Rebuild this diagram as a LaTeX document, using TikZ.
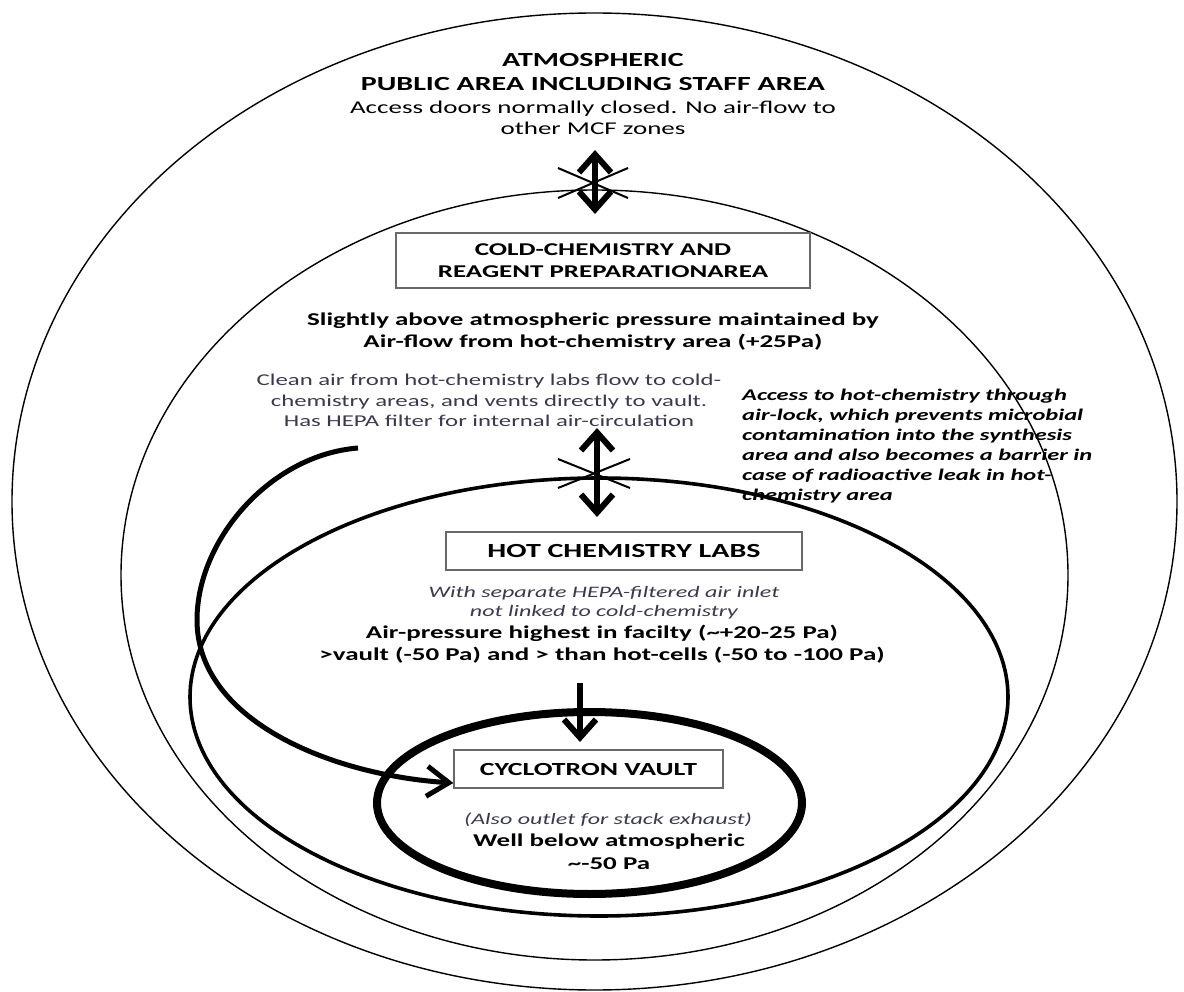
\documentclass[tikz,border=0pt]{standalone}
\usepackage{fontspec}
\setmainfont{Carlito}[FakeStretch=1.5]
\usetikzlibrary{arrows.meta}
\definecolor{softtext}{RGB}{58,58,76}
\definecolor{boxline}{RGB}{105,105,105}
\begin{document}
\begin{tikzpicture}[x=1pt,y=-1pt,
  zonethin/.style={draw=black,line width=1.4pt},
  zonemid/.style={draw=black,line width=3.6pt},
  zonethick/.style={draw=black,line width=8pt},
  labelbox/.style={draw=boxline,line width=1.3pt,fill=white,inner sep=0pt,align=center},
  txt/.style={inner sep=0pt,align=center},
  flowtwo/.style={line width=6pt,{Straight Barb[length=18pt,width=32pt]}-{Straight Barb[length=18pt,width=32pt]}},
  flowone/.style={line width=6pt,-{Straight Barb[length=18pt,width=32pt]}},
  curveflow/.style={line width=5pt,-{Straight Barb[length=22pt,width=30pt]}},
  blockx/.style={line width=2pt}
]
\useasboundingbox (0,0) rectangle (1184,992);

% zones
\draw[zonethin] (594.5,501.5) ellipse [x radius=582.5pt, y radius=488.5pt];
\draw[zonethin] (594.5,575) ellipse [x radius=473.5pt, y radius=385pt];
\draw[zonemid] (599,697) ellipse [x radius=409pt, y radius=219pt];
\draw[zonethick] (589.5,803) ellipse [x radius=212.5pt, y radius=91pt];

% texts: atmospheric zone
\node[txt,font=\bfseries\fontsize{20}{24}\selectfont] (atmos) at (593,72)
  {ATMOSPHERIC\\PUBLIC AREA INCLUDING STAFF AREA};
\node[txt,font=\fontsize{18}{21}\selectfont] (access) at (593,117.5)
  {Access doors normally closed. No air-flow to\\other MCF zones};

% cold chemistry
\node[labelbox,minimum width=414pt,minimum height=55pt,font=\bfseries\fontsize{18}{22}\selectfont] (cold) at (603,260.5)
  {COLD-CHEMISTRY AND\\REAGENT PREPARATIONAREA};
\node[txt,font=\bfseries\fontsize{18}{22}\selectfont] (slight) at (593,332)
  {Slightly above atmospheric pressure maintained by\\Air-flow from hot-chemistry area (+25Pa)};
\node[txt,text=softtext,font=\fontsize{16.5}{20.5}\selectfont] (clean) at (489,400.5)
  {Clean air from hot-chemistry labs flow to cold-\\chemistry areas, and vents directly to vault.\\Has HEPA filter for internal air-circulation};
\node[txt,align=left,anchor=west,font=\bfseries\itshape\fontsize{16.3}{20}\selectfont] (airlock) at (742,446)
  {Access to hot-chemistry through\\air-lock, which prevents microbial\\contamination into the synthesis\\area and also becomes a barrier in\\case of radioactive leak in hot-\\chemistry area};

% hot chemistry
\node[labelbox,minimum width=356pt,minimum height=38pt,font=\bfseries\fontsize{20}{24}\selectfont] (hot) at (624,551)
  {HOT CHEMISTRY LABS};
\node[txt,text=softtext,font=\itshape\fontsize{16}{19.5}\selectfont] (hotnote) at (604,602.5)
  {With separate HEPA-filtered air inlet\\not linked to cold-chemistry};
\node[txt,font=\bfseries\fontsize{18}{22}\selectfont] (hotpress) at (602,644)
  {Air-pressure highest in facilty (\textasciitilde+20-25 Pa)\\>vault (-50 Pa) and > than hot-cells (-50 to -100 Pa)};

% cyclotron vault
\node[labelbox,minimum width=269pt,minimum height=38pt,font=\bfseries\fontsize{18.5}{22}\selectfont] (vault) at (588.5,769)
  {CYCLOTRON VAULT};
\node[txt,text=softtext,font=\itshape\fontsize{16}{20}\selectfont] (vaultnote) at (608,820)
  {(Also outlet for stack exhaust)};
\node[txt,font=\bfseries\fontsize{18}{23}\selectfont] (vaultpress) at (609,851.5)
  {Well below atmospheric\\\textasciitilde-50 Pa};

% arrows
\coordinate (topa) at (595,150);
\coordinate (topb) at (595,214);
\draw[flowtwo] (topa) -- (topb);
\coordinate (tx1) at (558,168); \coordinate (tx2) at (628,198);
\coordinate (tx3) at (628,168); \coordinate (tx4) at (558,198);
\draw[blockx] (tx1) -- (tx2);
\draw[blockx] (tx3) -- (tx4);

\coordinate (mida) at (597,428);
\coordinate (midb) at (597,517);
\draw[flowtwo] (mida) -- (midb);
\coordinate (mx1) at (558,459); \coordinate (mx2) at (630,488);
\coordinate (mx3) at (630,459); \coordinate (mx4) at (558,488);
\draw[blockx] (mx1) -- (mx2);
\draw[blockx] (mx3) -- (mx4);

\coordinate (downa) at (580,683);
\coordinate (downb) at (580,742);
\draw[flowone] (downa) -- (downb);

\coordinate (cstart) at (358,448);
\coordinate (cmid) at (197,620);
\draw[curveflow] (cstart) .. controls (270,455) and (197,540) .. (cmid)
  .. controls (197,720) and (330,775) .. ([yshift=-14pt]vault.west);
\end{tikzpicture}
\end{document}
